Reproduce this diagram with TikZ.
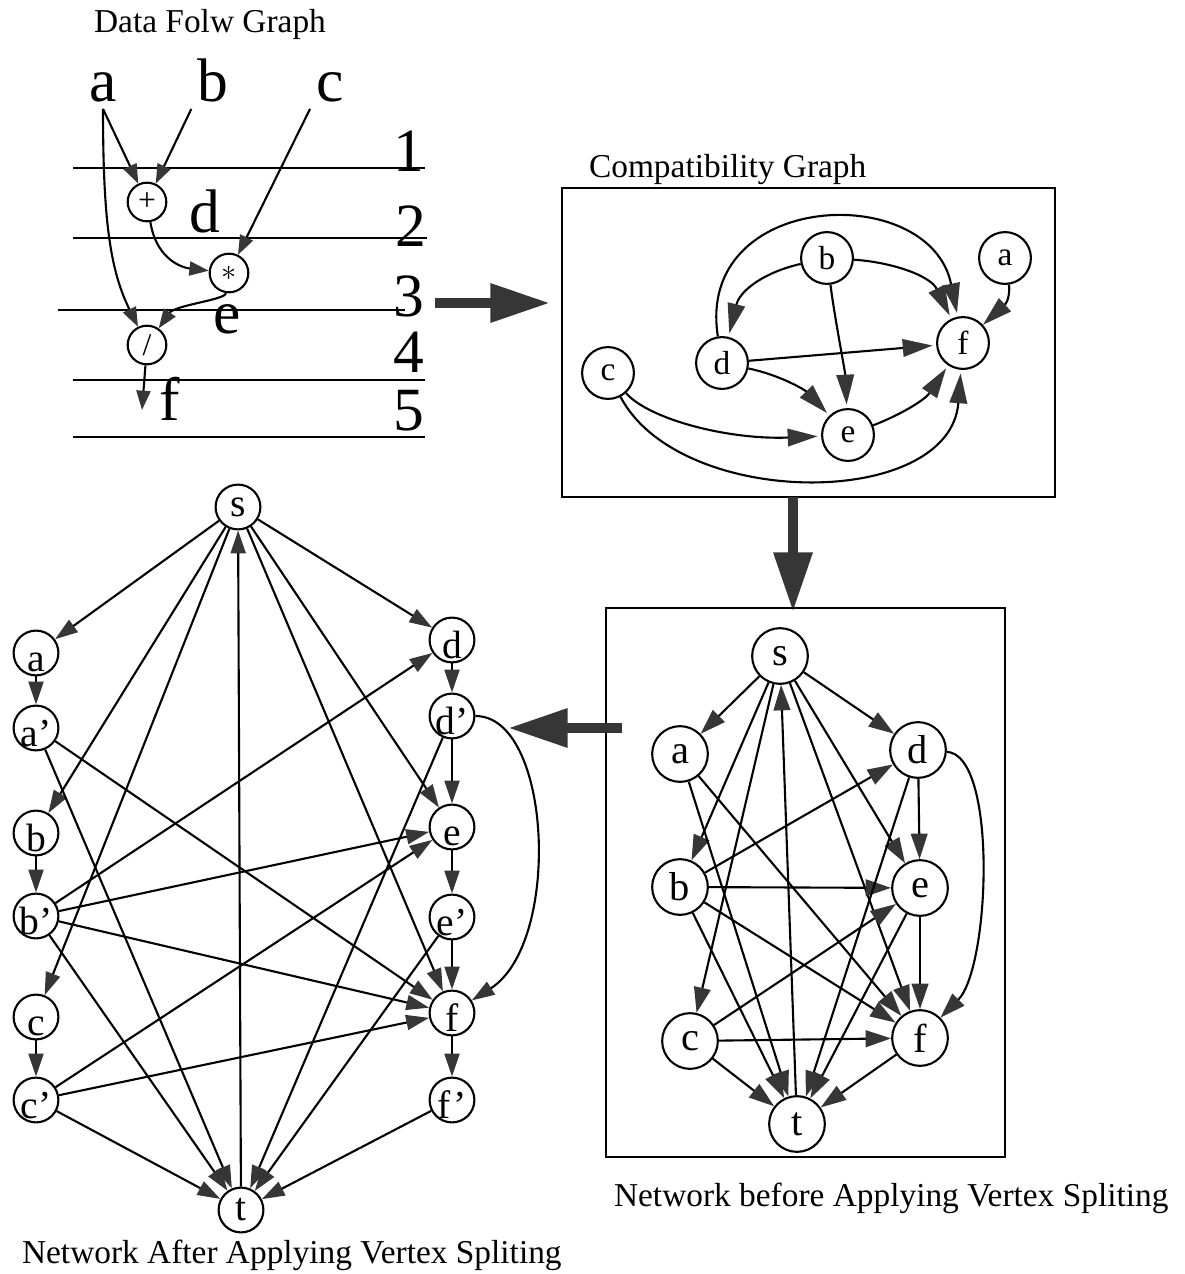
\documentclass[tikz,border=0pt]{standalone}
\usepackage{fontspec}
\setmainfont{Liberation Serif}
\usetikzlibrary{arrows.meta,calc,positioning,fit}

\definecolor{tipgray}{HTML}{363636}
\newcommand{\sunk}[1]{\raisebox{-10.5pt}[0pt][0pt]{#1}}

\tikzset{
  opnode/.style={draw, circle, minimum size=22pt, inner sep=0pt, font=\fontsize{18}{18}\selectfont},
  bigletter/.style={anchor=base, inner sep=3pt, font=\fontsize{35}{35}\selectfont},
  gnode/.style={draw, circle, minimum size=29.5pt, inner sep=0pt, font=\fontsize{19}{19}\selectfont},
  nnode/.style={draw, circle, minimum size=31.7pt, inner sep=0pt, font=\fontsize{23}{23}\selectfont},
  vnode/.style={draw, circle, minimum size=25.5pt, inner sep=0pt, font=\fontsize{22.5}{22.5}\selectfont},
  caption/.style={font=\fontsize{19}{19}\selectfont, inner sep=0pt},
  panel/.style={draw, line width=1.6pt, inner sep=0pt},
  fat/.style={draw=tipgray, line width=5.7pt, -{Triangle[length=34pt,width=21pt]}},
  flow/.style={-{Triangle[length=11pt,width=8pt,color=tipgray]}},
  cedge/.style={-{Triangle[length=17pt,width=10pt,color=tipgray]}, shorten >=2pt},
  nedge/.style={-{Triangle[length=14.5pt,width=9.5pt,color=tipgray]}},
  vedge/.style={-{Triangle[length=13pt,width=8.5pt,color=tipgray]}},
}

\begin{document}
\begin{tikzpicture}[x=0.02cm, y=-0.02cm, line width=1.2pt]
\useasboundingbox (0,0) rectangle (1185,1274);

% data flow graph with its control steps
\node[caption, anchor=base] at (210,33) {Data Folw Graph};
\foreach \y/\x/\e in {168/73/425, 238/73/427, 310/58/405, 380/73/425, 437/73/425}
  \draw (\x,\y) -- (\e,\y);
\foreach \n/\x/\y in {1/425/172, 2/427/246, 3/425/316, 4/425/372, 5/425/430}
  \node[bigletter, anchor=base east, inner sep=0pt] at (\x,\y) {\n};

\node[bigletter] (la) at (103,102) {a};
\node[bigletter] (lb) at (213,102) {b};
\node[bigletter] (lc) at (330,102) {c};
\node[bigletter] (ld) at (205,232) {d};
\node[bigletter] (le) at (227,333) {e};
\node[bigletter] (lf) at (170,420) {f};
\node[opnode] (add) at (147,202) {+};
\node[opnode] (mul) at (229,273) {$\ast$};
\node[opnode] (dvd) at (147,345) {/};
\coordinate (fout) at (142,410);

\draw[flow] (la.south) -- (add);
\draw[flow] (lb.south west) -- (add);
\draw[flow] (lc.south west) -- (mul);
\draw[flow] (la.south) .. controls (103,220) and (110,270) .. (dvd);
\draw[flow] (add) .. controls (157,262) and (185,268) .. (mul);
\draw[flow] (mul) .. controls (225,300) and (175,305) .. (dvd);
\draw[flow] (dvd) -- (fout);

\draw[fat] (435,303) -- (550,303);

% compatibility graph
\node[caption, anchor=base west] at (588,177) {Compatibility Graph};
\node[panel, fit={(562,188) (1055,497)}] (cgbox) {};
\foreach \n/\x/\y in {a/1005/258, b/827/258, c/608/373, d/722/363, e/848/435, f/963/343}
  \node[gnode] (g\n) at (\x,\y) {\n};
\draw[cedge] (gb) .. controls (765,272) and (740,290) .. (gd);
\draw[cedge] (gb) .. controls (890,262) and (930,275) .. (gf);
\draw[cedge] (gb) .. controls (835,320) and (845,370) .. (ge);
\draw[cedge, shorten >=0pt] (ga) .. controls (1010,292) and (1008,302) .. (gf);
\draw[cedge] (gd) .. controls (695,190) and (930,180) .. (gf);
\draw[cedge] (gd) -- (gf);
\draw[cedge] (gd) .. controls (780,375) and (805,390) .. (ge);
\draw[cedge] (gc) .. controls (650,420) and (730,440) .. (ge);
\draw[cedge] (gc) .. controls (680,510) and (950,510) .. (gf);
\draw[cedge] (ge) .. controls (900,415) and (925,400) .. (gf);

\draw[fat] (793,497) -- (793,612);

% flow network
\node[panel, fit={(606,608) (1005,1157)}] (nbox) {};
\foreach \n/\x/\y in {s/780/656, a/680/754, d/918/750, b/680/887, e/920/888, c/690/1041, f/920/1038, t/797/1124}
  \node[nnode] (n\n) at (\x,\y) {\n};
\foreach \u/\v in {s/a, s/b, s/c, s/d, s/e, s/f, a/t, a/f, b/d, b/e, b/f, b/t,
    c/e, c/f, c/t, d/e, d/t, e/f, e/t, f/t, t/s}
  \draw[nedge] (n\u) -- (n\v);
\draw[nedge] (nd) .. controls +(80,5) and +(70,-70) .. (nf);
\node[caption, anchor=base west] at (613,1206) {Network before Applying Vertex Spliting};

\draw[fat] (622,728) -- (508,728);

% split network
\node[vnode] (vs) at (238,507) {s};
\node[vnode] (vt) at (241,1210) {t};
\foreach \n/\l/\x/\y in {a/a/36/653, ap/a'/36/728, b/b/36/833, bp/b'/36/916, c/c/36/1017, cp/c'/36/1100,
    d/d/452/640, dp/d'/452/716, e/e/452/827, ep/e'/452/917, f/f/452/1013, fp/f'/452/1100}
  \node[vnode] (v\n) at (\x,\y) {\sunk{\l}};
\foreach \u/\v in {s/a, s/b, s/c, s/d, s/e, s/f, a/ap, b/bp, c/cp, d/dp, e/ep, f/fp,
    ap/t, ap/f, bp/d, bp/e, bp/f, bp/t, cp/e, cp/f, cp/t, dp/e, dp/t, ep/f, ep/t, fp/t, t/s}
  \draw[vedge] (v\u) -- (v\v);
\draw[vedge] (vdp) .. controls +(100,0) and +(110,-70) .. (vf);
\node[caption, anchor=base west] at (21,1263) {Network After Applying Vertex Spliting};
\end{tikzpicture}
\end{document}
